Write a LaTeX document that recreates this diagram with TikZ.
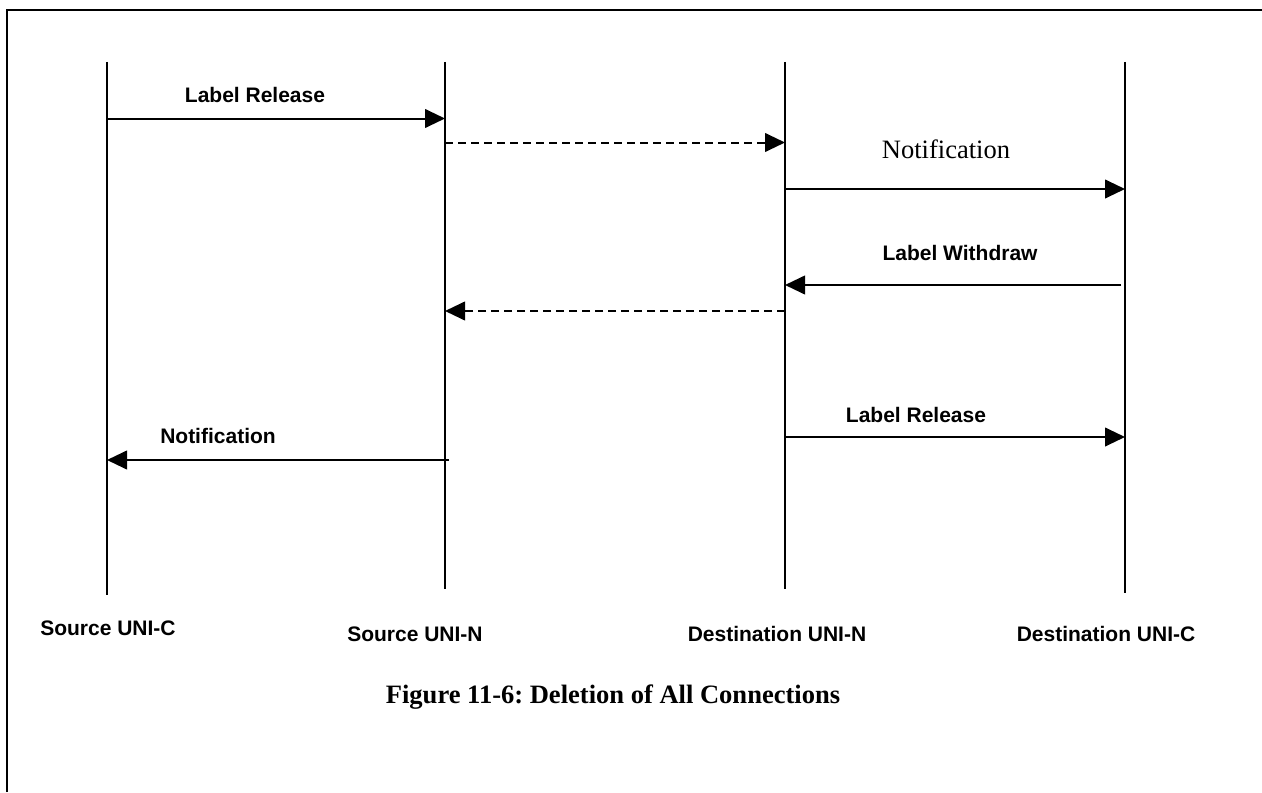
\documentclass[tikz,border=0pt]{standalone}
\usepackage{fontspec}
\setmainfont{Liberation Serif}
\setsansfont{Liberation Sans}
\usetikzlibrary{arrows.meta}
\frenchspacing

\begin{document}
\begin{tikzpicture}[x=0.75pt,y=-0.75pt,
  frame/.style={line width=1.5pt},
  lifeline/.style={line width=1.5pt},
  msg/.style={line width=1.5pt,-{Triangle[length=15pt,width=14pt]}},
  reply/.style={msg,dash pattern=on 6.25pt off 3.5pt},
  lbl/.style={font=\sffamily\bfseries\fontsize{15.75}{18}\selectfont,inner sep=0pt,anchor=base},
  serifl/.style={font=\fontsize{19.9}{22}\selectfont,inner sep=0pt,anchor=base},
  caption/.style={font=\bfseries\fontsize{19.9}{22}\selectfont,inner sep=0pt,anchor=base}]

\useasboundingbox (0,0) rectangle (1262,792);

% outer frame (open at right and bottom)
\draw[frame] (7,792) -- (7,10) -- (1262,10);

% lifelines
\coordinate (sct) at (107,62);   \coordinate (scb) at (107,595);
\coordinate (snt) at (445,62);   \coordinate (snb) at (445,589);
\coordinate (dnt) at (785,62);   \coordinate (dnb) at (785,589);
\coordinate (dct) at (1125,62);  \coordinate (dcb) at (1125,593);
\draw[lifeline] (sct) -- (scb);
\draw[lifeline] (snt) -- (snb);
\draw[lifeline] (dnt) -- (dnb);
\draw[lifeline] (dct) -- (dcb);

% message end points
\coordinate (m1a) at (107,118.5);  \coordinate (m1b) at (445,118.5);
\coordinate (m2a) at (445,142.5);  \coordinate (m2b) at (785,142.5);
\coordinate (m3a) at (785,189);    \coordinate (m3b) at (1125,189);
\coordinate (m4a) at (1121,285);   \coordinate (m4b) at (785,285);
\coordinate (m5a) at (785,311);    \coordinate (m5b) at (445,311);
\coordinate (m6a) at (785,437);    \coordinate (m6b) at (1125,437);
\coordinate (m7a) at (449,460);    \coordinate (m7b) at (107,460);

% messages
\draw[msg]   (m1a) -- (m1b);
\draw[reply] (m2a) -- (m2b);
\draw[msg]   (m3a) -- (m3b);
\draw[msg]   (m4a) -- (m4b);
\draw[reply] (m5a) -- (m5b);
\draw[msg]   (m6a) -- (m6b);
\draw[msg]   (m7a) -- (m7b);

% message labels
\node[lbl]    (t1) at (255,102)   {Label Release};
\node[serifl] (t3) at (946,158)   {Notification};
\node[lbl]    (t4) at (960,260)   {Label Withdraw};
\node[lbl]    (t6) at (916,422)   {Label Release};
\node[lbl]    (t7) at (218,443)   {Notification};

% entity names
\node[lbl] (n1) at (108,635)   {Source UNI-C};
\node[lbl] (n2) at (415,641)   {Source UNI-N};
\node[lbl] (n3) at (777,641.5) {Destination UNI-N};
\node[lbl] (n4) at (1106,641)  {Destination UNI-C};

% caption
\node[caption] (cap) at (613,703) {Figure 11-6: Deletion of All Connections};
\end{tikzpicture}
\end{document}
